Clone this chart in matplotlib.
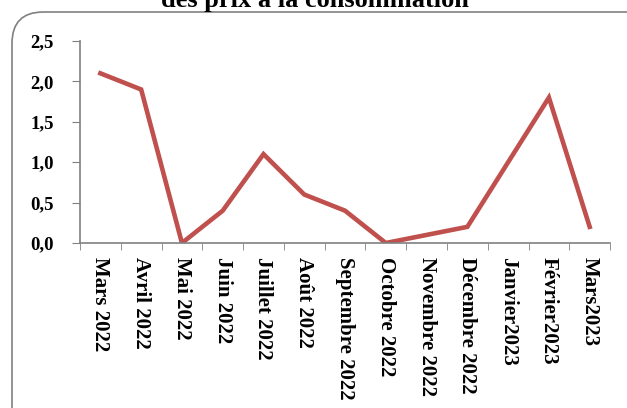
import matplotlib.pyplot as plt
from matplotlib.patches import FancyBboxPatch
import numpy as np

mois = ["Mars 2022", "Avril 2022", "Mai 2022", "Juin 2022", "Juillet 2022",
        "Août 2022", "Septembre 2022", "Octobre 2022", "Novembre 2022",
        "Décembre 2022", "Janvier2023", "Février2023", "Mars2023"]
valeurs = [2.1, 1.9, 0.0, 0.4, 1.1, 0.6, 0.4, 0.0, 0.1, 0.2, 1.0, 1.8, 0.2]
yticks = [0.0, 0.5, 1.0, 1.5, 2.0, 2.5]

plt.rcParams['font.family'] = ['Liberation Serif', 'DejaVu Serif']

fig = plt.figure(figsize=(6.27, 4.08), dpi=100)
ax = fig.add_axes([0.1276, 0.4044, 0.8454, 0.4951])

# cadre arrondi (coupé à droite et en bas)
cadre = FancyBboxPatch((12/627, -0.1), 1.1, 1 - 12/408 + 0.1,
                       boxstyle="round,pad=0,rounding_size=0.05",
                       transform=fig.transFigure, fill=False,
                       edgecolor="#808080", linewidth=1.2, mutation_aspect=627/408)
fig.patches.append(cadre)

fig.text(0.502, 1 - 7/408, "des prix à la consommation", ha="center", va="baseline",
         fontsize=19, fontweight="bold")

x = np.arange(len(mois))
ax.plot(x, valeurs, color="#C0504D", linewidth=3.3, solid_joinstyle="miter")

ax.set_xlim(-0.5, len(mois) - 0.5)
ax.set_ylim(0, 2.5)
ax.set_yticks(yticks)
ax.set_yticklabels([f"{v:.1f}".replace(".", ",") for v in yticks],
                   fontsize=13.5, fontweight="bold")
ax.set_xticks(x)
ax.set_xticklabels(mois, rotation=-90, fontsize=15, fontweight="bold",
                   va="top", ha="center")
ax.set_xticks(np.arange(-0.5, len(mois)), minor=True)
ax.tick_params(axis="x", which="major", length=0, pad=10)
ax.tick_params(axis="x", which="minor", length=5, color="#808080", direction="out")
ax.tick_params(axis="y", length=6, color="#808080", pad=13)

for s in ["top", "right"]:
    ax.spines[s].set_visible(False)
for s in ["left", "bottom"]:
    ax.spines[s].set_color("#808080")
    ax.spines[s].set_linewidth(1.2)

fig.savefig("out.png", dpi=100)
